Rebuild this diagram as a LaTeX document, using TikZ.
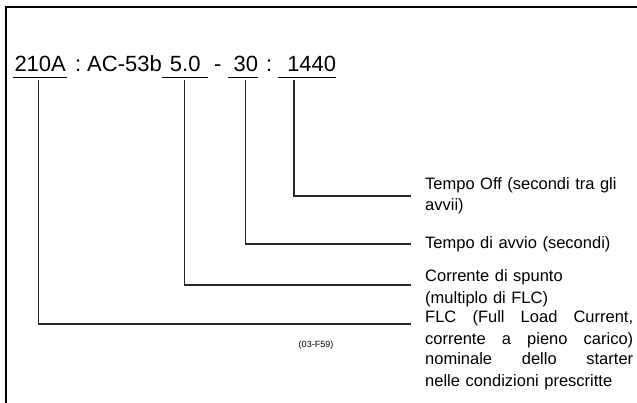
\documentclass[tikz,border=0pt]{standalone}
\usepackage{fontspec}
\setmainfont{Liberation Sans}
\begin{document}
\begin{tikzpicture}[x=1pt,y=-1pt,
  code/.style={font=\fontsize{22}{26}\selectfont, inner sep=0pt, anchor=base west},
  token/.style={code, text depth=5pt},
  label/.style={font=\fontsize{16.5}{21}\selectfont, inner sep=0pt, anchor=base west, text width=208pt, align=left},
  lead/.style={line width=1.2pt, draw=black!85},
  uline/.style={line width=1pt}
]
\useasboundingbox (0,0) rectangle (637,403);
\draw[line width=2pt] (637,7) -- (6,7) -- (6,403);

% code line
\node[token, text width=54pt, align=center] (u210) at (13,72) {210A};
\node[code] (c1) at (75,72) {:};
\node[code] (ac) at (87,72) {AC-53b};
\node[token, text width=46pt, align=center] (u50) at (162,72) {5.0};
\node[code] (dash) at (214,72) {-};
\node[token, text width=30pt, align=right] (u30) at (228,72) {30};
\node[code] (c2) at (266,72) {:};
\node[token, text width=58pt, align=right] (u1440) at (278,72) {1440};

\foreach \n in {u210,u50,u30,u1440}
  \draw[uline] (\n.south west) -- (\n.south east);

% labels
\node[label] (l1440) at (425,190) {Tempo Off (secondi tra gli\\avvii)};
\node[label] (l30) at (425,249) {Tempo di avvio (secondi)};
\node[label] (l50) at (425,282) {Corrente di spunto\\(multiplo di FLC)};
\node[label] (l210) at (425,323) {\makebox[208pt][l]{FLC\hfill(Full\hfill Load\hfill Current,}\\
  \makebox[208pt][l]{corrente\hfill a\hfill pieno\hfill carico)}\\
  \makebox[208pt][l]{nominale\hfill dello\hfill starter}\\
  nelle condizioni prescritte};

\node[font=\fontsize{9}{11}\selectfont, inner sep=0pt] (ref) at (316,345) {(03-F59)};

% connector ends
\coordinate (e1440) at (411,196);
\coordinate (e30) at (411,244);
\coordinate (e50) at (411,285);
\coordinate (e210) at (411,324);

\draw[lead] ([shift={(16,3)}]u1440.south west) |- (e1440);
\draw[lead] ([shift={(2,3)}]u30.south) |- (e30);
\draw[lead] ([shift={(-1,3)}]u50.south) |- (e50);
\draw[lead] ([shift={(-2,3)}]u210.south) |- (e210);
\end{tikzpicture}
\end{document}
